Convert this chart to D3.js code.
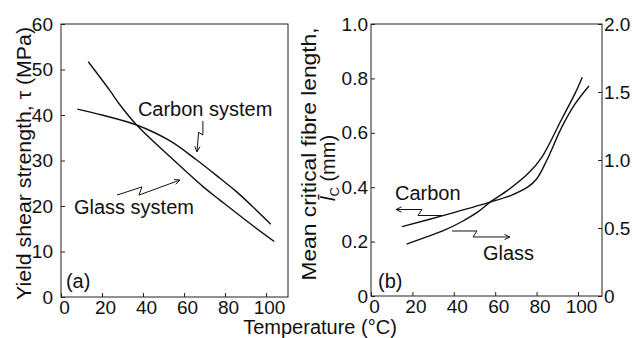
<!DOCTYPE html>
<html lang="en">
<head>
<meta charset="UTF-8">
<title>Yield shear strength and critical fibre length vs temperature</title>
<script src="https://d3js.org/d3.v7.min.js"></script>
<style>
  body { margin: 0; background: #fff; }
  svg text { font-family: "Liberation Sans", Arial, Helvetica, sans-serif; fill: #111; }
  .axis path { display: none; }
  .axis line { stroke: #222; stroke-width: 1; }
  .axis text { font-size: 19px; }
</style>
</head>
<body>
<svg id="chart" width="634" height="338"></svg>
<script>
// ---- data ----
const tempTicks = [0, 20, 40, 60, 80, 100];
const tauTicks = [0, 10, 20, 30, 40, 50, 60];
const lenTicks = [0, 0.2, 0.4, 0.6, 0.8, 1.0];
const lenRightTicks = [0, 0.5, 1.0, 1.5, 2.0];

// (a) yield shear strength, MPa
const carbonSysT   = [8, 20, 36.9, 53.2, 66.2, 77.5, 85.7, 102.3];
const carbonSysTau = [41.3, 40.0, 37.8, 34.3, 30.1, 26.1, 23.1, 16.0];
const glassSysT    = [13.3, 23.8, 28.8, 36.9, 53.2, 69.4, 77.5, 92, 104];
const glassSysTau  = [51.7, 45.4, 42.2, 37.8, 30.8, 24.2, 21.3, 16.2, 12.2];

// (b) critical fibre length; carbon on left axis (mm), glass on right axis
const carbonLenT = [15, 36, 57.5, 68, 76, 80, 85, 92, 98.6, 105.3];
const carbonLen  = [0.255, 0.298, 0.345, 0.371, 0.402, 0.43, 0.50, 0.618, 0.706, 0.772];
const glassLenT  = [17.2, 35.7, 43.8, 51.8, 57.5, 66.3, 76, 82.5, 92.1, 98.6, 102.1];
const glassLen   = [0.382, 0.486, 0.546, 0.62, 0.69, 0.78, 0.902, 1.02, 1.30, 1.49, 1.608];

const svg = d3.select('#chart');

// panel geometry
const A = { left: 61, right: 288, top: 24, bottom: 297, xMax: 110.7 };
const B = { left: 371, right: 602, top: 24, bottom: 296, xMax: 111.6 };

const xA = d3.scaleLinear().domain([0, A.xMax]).range([A.left, A.right]);
const yA = d3.scaleLinear().domain([0, 60]).range([A.bottom, A.top]);
const xB = d3.scaleLinear().domain([0, B.xMax]).range([B.left, B.right]);
const yB = d3.scaleLinear().domain([0, 1]).range([B.bottom, B.top]);
const yB2 = d3.scaleLinear().domain([0, 2]).range([B.bottom, B.top]);

function frame(p) {
  svg.append('rect')
    .attr('x', p.left).attr('y', p.top)
    .attr('width', p.right - p.left).attr('height', p.bottom - p.top)
    .attr('fill', 'none').attr('stroke', '#222').attr('stroke-width', 1);
}

function xAxis(x, p) {
  const g = svg.append('g').attr('class', 'axis')
    .attr('transform', `translate(0,${p.bottom})`)
    .call(d3.axisBottom(x).tickValues(tempTicks).tickFormat(d3.format('d'))
      .tickSizeInner(-4).tickSizeOuter(0).tickPadding(3));
  g.selectAll('text').attr('dx', 3);
}

function curve(x, y, xs, ys) {
  const line = d3.line().x(d => x(d[0])).y(d => y(d[1])).curve(d3.curveCatmullRom.alpha(0.5));
  svg.append('path')
    .attr('d', line(d3.zip(xs, ys)))
    .attr('fill', 'none').attr('stroke', '#111').attr('stroke-width', 1.4);
}

// leader with a little zigzag, ending in an open arrowhead
function leader(x, y, pts) {
  const p = pts.map(d => [x(d[0]), y(d[1])]);
  svg.append('path')
    .attr('d', d3.line()(p))
    .attr('fill', 'none').attr('stroke', '#111').attr('stroke-width', 1);
  const [tx, ty] = p[p.length - 1], [px, py] = p[p.length - 2];
  const a = Math.atan2(ty - py, tx - px), L = 6, w = 0.45;
  svg.append('path')
    .attr('d', d3.line()([
      [tx - L * Math.cos(a - w), ty - L * Math.sin(a - w)],
      [tx, ty],
      [tx - L * Math.cos(a + w), ty - L * Math.sin(a + w)]]))
    .attr('fill', 'none').attr('stroke', '#111').attr('stroke-width', 1);
}

function label(x, y, t, v, txt) {
  svg.append('text').attr('x', x(t)).attr('y', y(v))
    .attr('font-size', 20).text(txt);
}

// ---- panel (a) ----
frame(A);
svg.append('g').attr('class', 'axis')
  .attr('transform', `translate(${A.left},0)`)
  .call(d3.axisLeft(yA).tickValues(tauTicks).tickFormat(d3.format('d'))
    .tickSizeInner(-4).tickSizeOuter(0).tickPadding(8));
xAxis(xA, A);

curve(xA, yA, carbonSysT, carbonSysTau);
curve(xA, yA, glassSysT, glassSysTau);

label(xA, yA, 37.5, 39.8, 'Carbon system');
label(xA, yA, 6.3, 18.2, 'Glass system');
label(xA, yA, 2.4, 2.0, '(a)');
leader(xA, yA, [[69.2, 38.7], [69.2, 35.6], [67.1, 36.2], [66.3, 31.9]]);
leader(xA, yA, [[27.3, 22.4], [39.5, 24.2], [38.0, 22.4], [58.0, 25.7]]);

svg.append('text')
  .attr('transform', `translate(31,${(A.top + A.bottom) / 2 + 3}) rotate(-90)`)
  .attr('text-anchor', 'middle').attr('font-size', 20)
  .attr('textLength', 273).attr('lengthAdjust', 'spacingAndGlyphs')
  .text('Yield shear strength, \u03c4 (MPa)');

// ---- panel (b) ----
frame(B);
svg.append('g').attr('class', 'axis')
  .attr('transform', `translate(${B.left},0)`)
  .call(d3.axisLeft(yB).tickValues(lenTicks).tickFormat(d => d === 0 ? '0' : d3.format('.1f')(d))
    .tickSizeInner(-4).tickSizeOuter(0).tickPadding(3));
svg.append('g').attr('class', 'axis')
  .attr('transform', `translate(${B.right},0)`)
  .call(d3.axisRight(yB2).tickValues(lenRightTicks).tickFormat(d => d === 0 ? '0' : d3.format('.1f')(d))
    .tickSizeInner(-4).tickSizeOuter(0).tickPadding(2));
xAxis(xB, B);

curve(xB, yB, carbonLenT, carbonLen);
curve(xB, yB2, glassLenT, glassLen);

label(xB, yB, 11.6, 0.353, 'Carbon');
label(xB, yB, 54.1, 0.132, 'Glass');
label(xB, yB, 3.4, 0.029, '(b)');
leader(xB, yB, [[34.3, 0.296], [22.7, 0.296], [24.6, 0.318], [12.1, 0.318]]);
leader(xB, yB, [[39.1, 0.239], [51.2, 0.239], [49.3, 0.217], [67.1, 0.217]]);

svg.append('text')
  .attr('transform', `translate(316,154) rotate(-90)`)
  .attr('text-anchor', 'middle').attr('font-size', 20)
  .attr('textLength', 253).attr('lengthAdjust', 'spacingAndGlyphs')
  .text('Mean critical fibre length,');
const l2 = svg.append('text')
  .attr('transform', `translate(335,201) rotate(-90)`)
  .attr('font-size', 20);
l2.append('tspan').attr('font-style', 'italic').text('l\u0304');
l2.append('tspan').attr('font-size', 13).attr('dy', 4).text('C');
l2.append('tspan').attr('dy', -4).text(' (mm)');

// shared x title
svg.append('text')
  .attr('x', 320).attr('y', 334)
  .attr('text-anchor', 'middle').attr('font-size', 20)
  .text('Temperature (\u00b0C)');
</script>
</body>
</html>
